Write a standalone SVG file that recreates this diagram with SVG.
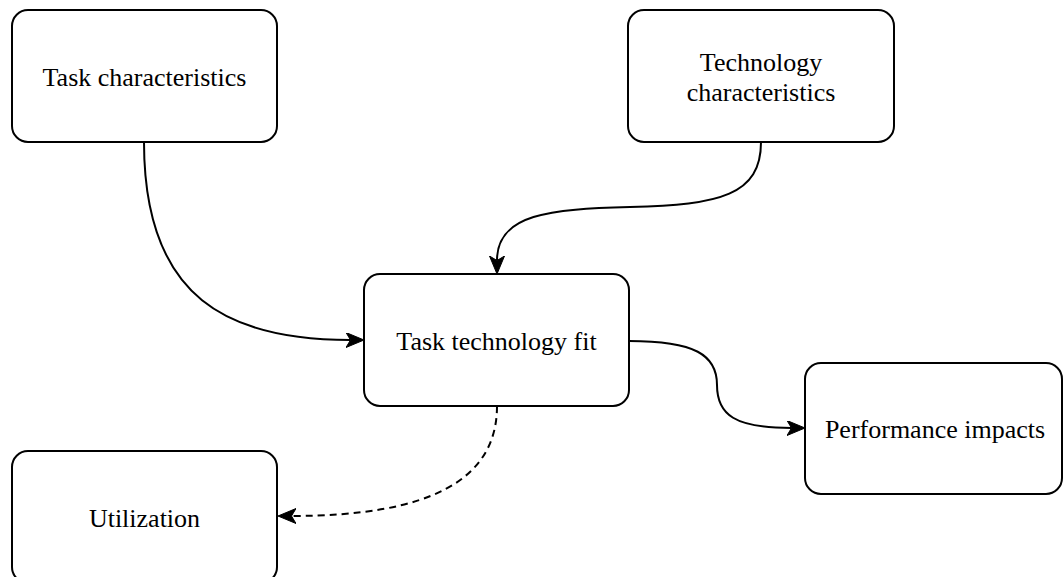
<svg xmlns="http://www.w3.org/2000/svg" width="1063" height="577" viewBox="0 0 1063 577">
  <style>
    .box { fill: #ffffff; stroke: #000000; stroke-width: 2; }
    .label { font-family: "Liberation Serif", "Times New Roman", serif; font-size: 26px; fill: #000000; text-anchor: middle; }
    .edge { fill: none; stroke: #000000; stroke-width: 2; marker-end: url(#arrow); }
    .dashed { stroke-dasharray: 7 5; }
  </style>
  <defs>
    <!-- filled classic arrowhead with a notch; refX sits at the notch so the line ends inside it -->
    <marker id="arrow" markerUnits="userSpaceOnUse" markerWidth="20" markerHeight="16" refX="4.5" refY="7.5" orient="auto">
      <path d="M0,0 L18,7.5 L0,15 L4.5,7.5 Z" fill="#000000" stroke="#000000" stroke-width="1" stroke-dasharray="none" stroke-linejoin="miter"/>
    </marker>
  </defs>

  <rect width="1063" height="577" fill="#ffffff"/>

  <g id="connectors">
    <path id="edge-task-fit" class="edge" d="M144,142 C144,300 230,340 350.5,340"/>
    <path id="edge-tech-fit" class="edge" d="M761,142 C761,195 720,205 630,207 C550,209 497,214 497,260.5"/>
    <path id="edge-fit-perf" class="edge" d="M629,341 C695,341 717,355 717,385 C717,415 735,428 791.5,428"/>
    <path id="edge-fit-util" class="edge dashed" d="M497,406 C497,480 430,516 291.5,516"/>
  </g>

  <g id="task-characteristics">
    <rect class="box" x="12" y="10" width="265" height="132" rx="16" ry="16"/>
    <text class="label" x="144.5" y="86">Task characteristics</text>
  </g>

  <g id="technology-characteristics">
    <rect class="box" x="628" y="10" width="266" height="132" rx="16" ry="16"/>
    <text class="label" x="761" y="71">Technology</text>
    <text class="label" x="761" y="101">characteristics</text>
  </g>

  <g id="task-technology-fit">
    <rect class="box" x="364" y="274" width="265" height="132" rx="16" ry="16"/>
    <text class="label" x="496.5" y="350">Task technology fit</text>
  </g>

  <g id="performance-impacts">
    <rect class="box" x="805" y="363" width="257" height="131" rx="16" ry="16"/>
    <text class="label" x="935" y="438">Performance impacts</text>
  </g>

  <g id="utilization">
    <rect class="box" x="12" y="451" width="265" height="132" rx="16" ry="16"/>
    <text class="label" x="144.5" y="527">Utilization</text>
  </g>
</svg>
